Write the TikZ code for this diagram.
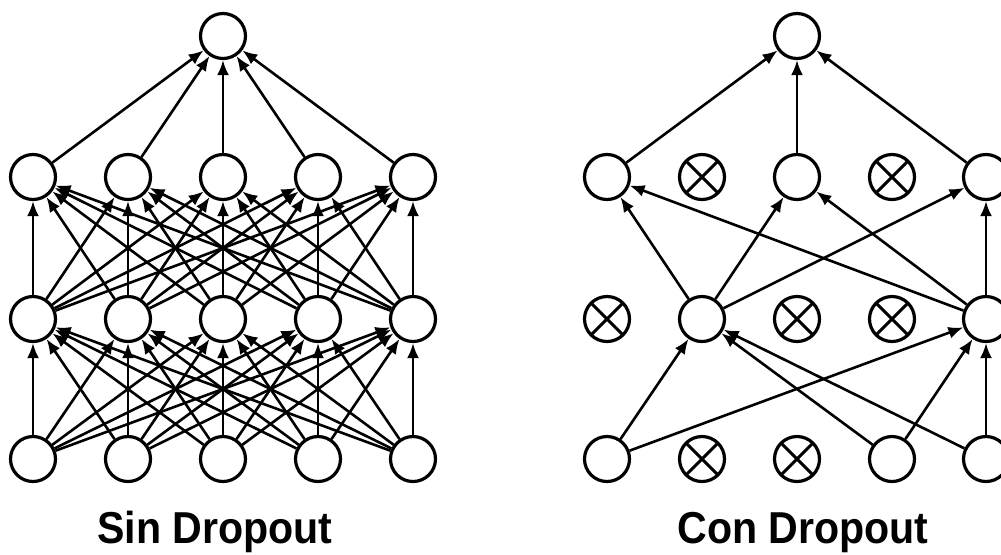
\documentclass[tikz,border=0pt]{standalone}
\usepackage{fontspec}
\setmainfont{Liberation Sans}
\usetikzlibrary{arrows.meta}
\begin{document}
\begin{tikzpicture}[x=0.5pt,y=-0.5pt,
  neuron/.style={circle,draw,line width=1.6pt,minimum size=22.5pt,inner sep=0pt,fill=white},
  dropped/.style={neuron,path picture={
    \draw[line width=1.5pt]
      (path picture bounding box.north west) -- (path picture bounding box.south east)
      (path picture bounding box.north east) -- (path picture bounding box.south west);}},
  link/.style={line width=1.3pt,-{Latex[length=7.5pt,width=6pt]}},
  caption/.style={anchor=base,inner sep=0pt,font=\fontsize{22.35}{24}\selectfont\bfseries}]
\useasboundingbox (0,0) rectangle (1001,554);

% ---- standard network: fully connected ----
\node[neuron] (L-out) at (223,36) {};
\foreach \i/\x in {1/33,2/128,3/223,4/318,5/413} {
  \node[neuron] (L-h1-\i) at (\x,177) {};
  \node[neuron] (L-h2-\i) at (\x,319) {};
  \node[neuron] (L-in-\i) at (\x,459) {};
}
\foreach \i in {1,...,5} {
  \draw[link] (L-h1-\i) -- (L-out);
  \foreach \j in {1,...,5} {
    \draw[link] (L-h2-\i) -- (L-h1-\j);
    \draw[link] (L-in-\i) -- (L-h2-\j);
  }
}

% ---- thinned network after dropout ----
\node[neuron] (R-out) at (797,36) {};
\node[neuron]  (R-h1-1) at (607,177) {};
\node[dropped] (R-h1-2) at (702,177) {};
\node[neuron]  (R-h1-3) at (797,177) {};
\node[dropped] (R-h1-4) at (892,177) {};
\node[neuron]  (R-h1-5) at (986,177) {};
\node[dropped] (R-h2-1) at (607,319) {};
\node[neuron]  (R-h2-2) at (702,319) {};
\node[dropped] (R-h2-3) at (797,319) {};
\node[dropped] (R-h2-4) at (892,319) {};
\node[neuron]  (R-h2-5) at (986,319) {};
\node[neuron]  (R-in-1) at (607,459) {};
\node[dropped] (R-in-2) at (702,459) {};
\node[dropped] (R-in-3) at (797,459) {};
\node[neuron]  (R-in-4) at (892,459) {};
\node[neuron]  (R-in-5) at (986,459) {};

\foreach \i in {1,3,5} \draw[link] (R-h1-\i) -- (R-out);
\foreach \i in {2,5} \foreach \j in {1,3,5} \draw[link] (R-h2-\i) -- (R-h1-\j);
\foreach \i in {1,4,5} \foreach \j in {2,5} \draw[link] (R-in-\i) -- (R-h2-\j);

% ---- captions ----
\node[caption] (cap-l) at (215,543) {\scalebox{0.92}[1]{Sin Dropout}};
\node[caption] (cap-r) at (803,543) {\scalebox{0.92}[1]{Con Dropout}};
\end{tikzpicture}
\end{document}
